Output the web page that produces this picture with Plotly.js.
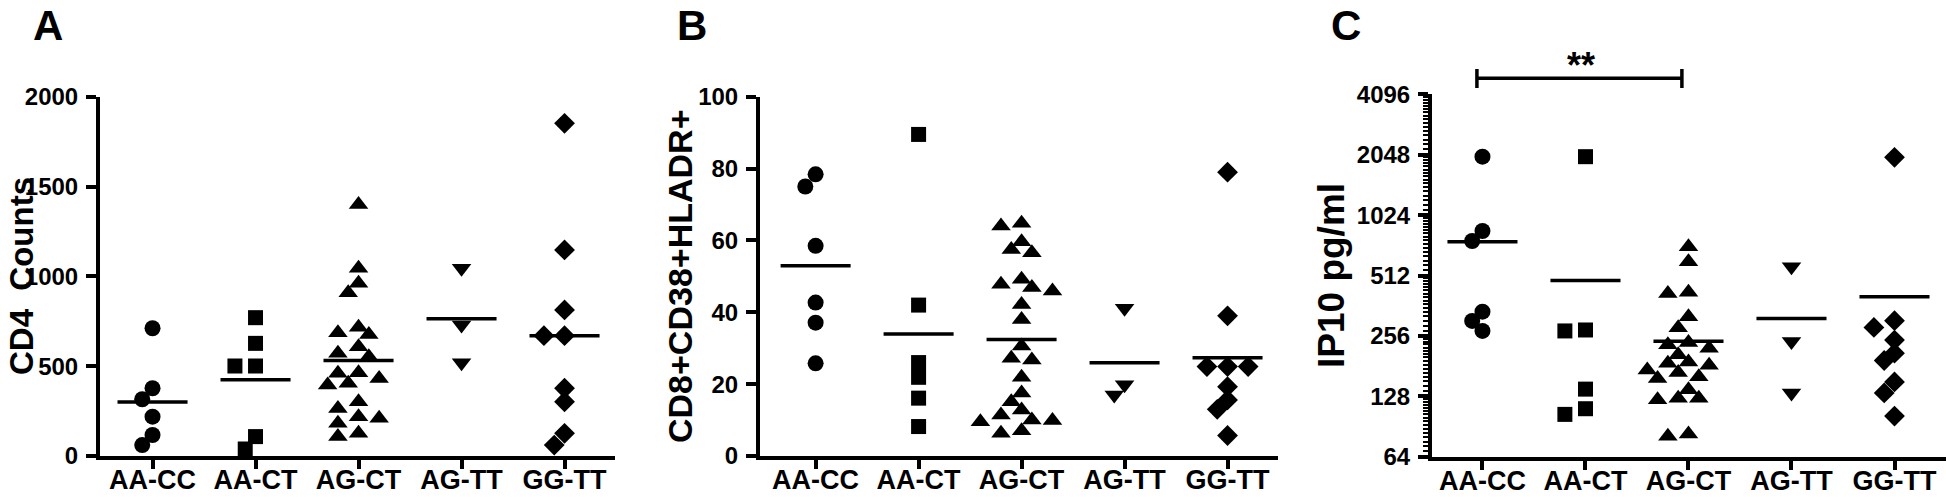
<!DOCTYPE html>
<html>
<head>
<meta charset="utf-8">
<script src="https://cdn.plot.ly/plotly-3.0.1.min.js"></script>
<style>
  html, body { margin: 0; padding: 0; background: #fff; }
  #chart { width: 1946px; height: 497px; }
</style>
</head>
<body>
<div id="chart"></div>
<script>
// genotype groups (x axis of every panel)
var groups = ["AA-CC", "AA-CT", "AG-CT", "AG-TT", "GG-TT"];
var symbols = ["circle", "square", "triangle-up", "triangle-down", "diamond"];
var sizes = [16, 15, 17, 17, 16];

// A - CD4 counts
var cd4_AACC = [711, 377, 316, 219, 117, 61];
var cd4_AACT = [770, 627, 501, 501, 108, 39];
var cd4_AGCT = [1400, 1045, 961, 909, 716, 686, 677, 608, 572, 553, 464, 460, 432, 405, 395, 302, 265, 219, 210, 182, 126, 108];
var cd4_AGTT = [1045, 729, 519];
var cd4_GGTT = [1852, 1147, 813, 670, 670, 377, 302, 126, 61];

// B - CD8+CD38+HLADR+ (%)
var act_AACC = [78.4, 75.0, 58.5, 42.7, 37.1, 25.8];
var act_AACT = [89.5, 42.0, 26.0, 21.9, 16.1, 8.2];
var act_AGCT = [64.8, 64.0, 59.6, 57.5, 56.6, 49.2, 47.8, 46.9, 45.9, 42.2, 38.0, 30.6, 27.2, 26.7, 21.9, 17.5, 15.1, 12.8, 11.4, 10.0, 9.9, 9.5, 7.0, 6.3];
var act_AGTT = [41.1, 19.8, 17.0];
var act_GGTT = [79.0, 39.0, 24.9, 24.9, 24.9, 19.3, 15.6, 13.0, 5.7];

// C - IP10 pg/ml
var ip10_AACC = [2002, 853, 761, 338, 304, 271];
var ip10_AACT = [2002, 274, 271, 139, 111, 104];
var ip10_AGCT = [712, 600, 422, 417, 319, 281, 237, 231, 222, 206, 190, 187, 183, 173, 168, 160, 157, 138, 125, 125, 123, 83, 81];
var ip10_AGTT = [566, 240, 133];
var ip10_GGTT = [1988, 305, 282, 244, 210, 193, 151, 133, 102];

var cd4Ticks = [0, 500, 1000, 1500, 2000];
var actTicks = [0, 20, 40, 60, 80, 100];
var ip10Ticks = [64, 128, 256, 512, 1024, 2048, 4096];

var W = 1946, H = 497;
var FONT = "Liberation Sans, Arial, Helvetica, sans-serif";
var plotTop = 96.7, plotBottom = 456;      // px, panels A and B
var logTop = 94.3, logBottom = 456.7;      // px, panel C

// spread points of one group sideways so they do not sit on top of each other
function spread(values, toPx) {
  var order = values.map(function (v, i) { return i; })
    .sort(function (a, b) { return values[b] - values[a]; });
  var lanes = [], placed = [];
  order.forEach(function (i) {
    var y = toPx(values[i]);
    for (var k = 0; ; k++) {
      var lane = (k % 2 ? -1 : 1) * Math.ceil(k / 2);
      var ok = placed.every(function (p) {
        var dl = Math.abs(p.lane - lane), dy = Math.abs(p.y - y);
        if (dl === 0) return dy >= 13;
        if (dl === 1) return dy >= 7;
        return true;
      });
      if (ok) { placed.push({lane: lane, y: y}); lanes[i] = lane; break; }
    }
  });
  return lanes;
}

function mean(a) {
  return a.reduce(function (s, v) { return s + v; }, 0) / a.length;
}

var data = [];

function addPanel(sets, axisId, toPx) {
  var mx = [], my = [];
  sets.forEach(function (vals, g) {
    var lanes = spread(vals, toPx);
    data.push({
      type: "scatter", mode: "markers",
      x: vals.map(function (v, i) { return g + lanes[i] * 0.1; }),
      y: vals,
      xaxis: "x" + axisId, yaxis: "y" + axisId,
      cliponaxis: false, showlegend: false, hoverinfo: "y",
      marker: {symbol: symbols[g], color: "#000", size: sizes[g]}
    });
    var m = mean(vals);
    mx.push(g - 0.34, g + 0.34, null);
    my.push(m, m, null);
  });
  data.push({
    type: "scatter", mode: "lines", x: mx, y: my,
    xaxis: "x" + axisId, yaxis: "y" + axisId,
    cliponaxis: false, showlegend: false, hoverinfo: "skip",
    line: {color: "#000", width: 3.5}
  });
}

var linPx = function (max) {
  return function (v) { return v / max * (plotBottom - plotTop); };
};
var logPx = function (v) {
  return Math.log2(v) * (logBottom - logTop) / 6;
};

addPanel([cd4_AACC, cd4_AACT, cd4_AGCT, cd4_AGTT, cd4_GGTT], "", linPx(2000));
addPanel([act_AACC, act_AACT, act_AGCT, act_AGTT, act_GGTT], "2", linPx(100));
addPanel([ip10_AACC, ip10_AACT, ip10_AGCT, ip10_AGTT, ip10_GGTT], "3", logPx);

// minor ticks on the log2 axis
var minorTicks = [];
for (var b = 64; b < 4096; b *= 2) {
  for (var k = 1; k < 16; k++) minorTicks.push(b + k * b / 16);
}

function xAxis(left, right, lo, hi, anchor) {
  return {
    domain: [left / W, right / W], range: [lo, hi], anchor: anchor,
    tickmode: "array", tickvals: [0, 1, 2, 3, 4], ticktext: groups,
    ticks: "outside", ticklen: 9, tickwidth: 4, tickcolor: "#000",
    ticklabelstandoff: -12,
    showline: true, linewidth: 4, linecolor: "#000",
    showgrid: false, zeroline: false, automargin: false,
    tickfont: {family: FONT, size: 27, weight: 700, color: "#000"}
  };
}

function yAxis(ticks, anchor, top, bottom) {
  return {
    domain: [1 - bottom / H, 1 - top / H], anchor: anchor,
    range: [ticks[0], ticks[ticks.length - 1]],
    tickmode: "array", tickvals: ticks, ticktext: ticks.map(String),
    ticks: "outside", ticklen: 10, tickwidth: 4, tickcolor: "#000",
    ticklabelstandoff: 3,
    showline: true, linewidth: 4, linecolor: "#000",
    showgrid: false, zeroline: false, automargin: false,
    tickfont: {family: FONT, size: 24, weight: 700, color: "#000"}
  };
}

var yC = yAxis(ip10Ticks, "x3", logTop, logBottom);
yC.type = "log";
yC.range = [Math.log10(64), Math.log10(4096)];
yC.minor = {tickmode: "array", tickvals: minorTicks, ticks: "outside", ticklen: 5, tickwidth: 2, tickcolor: "#000", showgrid: false};

// panel letters
function letter(txt, px) {
  return {
    text: txt, xref: "paper", yref: "paper", x: px / W, y: 1,
    xanchor: "left", yanchor: "top", showarrow: false,
    font: {family: FONT, size: 42, weight: 700, color: "#000"}
  };
}

// vertical axis titles
function yTitle(txt, px, size) {
  return {
    text: txt, xref: "paper", yref: "paper", x: px / W, y: 1 - 276 / H,
    xanchor: "center", yanchor: "middle", textangle: -90, showarrow: false,
    font: {family: FONT, size: size, weight: 700, color: "#000"}
  };
}

var layout = {
  width: W, height: H,
  margin: {l: 0, r: 0, t: 0, b: 0},
  paper_bgcolor: "#fff", plot_bgcolor: "#fff",
  showlegend: false,
  xaxis: xAxis(100, 615, -0.51, 4.49, "y"),
  yaxis: yAxis(cd4Ticks, "x", plotTop, plotBottom),
  xaxis2: xAxis(760, 1278, -0.54, 4.49, "y2"),
  yaxis2: yAxis(actTicks, "x2", plotTop, plotBottom),
  xaxis3: xAxis(1432, 1946, -0.49, 4.5, "y3"),
  yaxis3: yC,
  annotations: [
    letter("A", 31),
    letter("B", 675),
    letter("C", 1329),
    yTitle("CD4\u00a0 Counts", 21, 33),
    yTitle("CD8+CD38+HLADR+", 680, 34),
    yTitle("IP10 pg/ml", 1331, 37),
    {text: "**", xref: "x3", yref: "paper", x: 0.96, y: 1 - 66 / H,
     xanchor: "center", yanchor: "middle", showarrow: false,
     font: {family: FONT, size: 36, weight: 700, color: "#000"}}
  ],
  shapes: [
    // significance bracket AA-CC vs AG-CT
    {type: "line", xref: "x3", yref: "paper", x0: -0.054, x1: 1.936, y0: 1 - 78.3 / H, y1: 1 - 78.3 / H, line: {color: "#000", width: 3.5}},
    {type: "line", xref: "x3", yref: "paper", x0: -0.054, x1: -0.054, y0: 1 - 69 / H, y1: 1 - 88 / H, line: {color: "#000", width: 3.5}},
    {type: "line", xref: "x3", yref: "paper", x0: 1.936, x1: 1.936, y0: 1 - 69 / H, y1: 1 - 88 / H, line: {color: "#000", width: 3.5}}
  ]
};

Plotly.newPlot("chart", data, layout, {displayModeBar: false, staticPlot: true});
</script>
</body>
</html>
